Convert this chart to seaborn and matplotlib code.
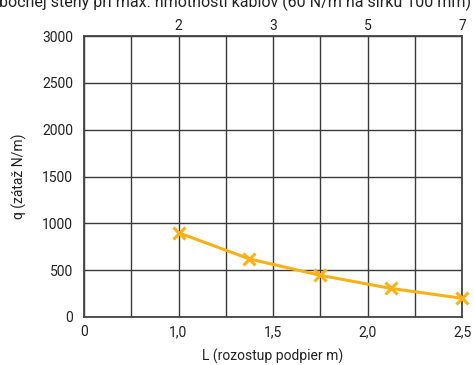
import numpy as np
import pandas as pd
import matplotlib
matplotlib.use('Agg')
import matplotlib.pyplot as plt
import seaborn as sns

# data
span_L = [1.0, 1.375, 1.75, 2.125, 2.5]     # rozostup podpier (m)
load_q = [900, 620, 445, 305, 200]          # zataz (N/m)

x_ticks = [0, 1.0, 1.5, 2.0, 2.5]
x_ticklabels = ["0", "1,0", "1,5", "2,0", "2,5"]
x_minor = [0.5, 1.25, 1.75, 2.25]
top_ticks = [1.0, 1.5, 2.0, 2.5]
top_labels = ["2", "3", "5", "7"]
y_ticks = [0, 500, 1000, 1500, 2000, 2500, 3000]

title = "bočnej steny pri max. hmotnosti káblov (60 N/m na šírku 100 mm)"

df = pd.DataFrame({"L": span_L, "q": load_q})

sns.set_style("white")
plt.rcParams['font.family'] = ['Roboto', 'DejaVu Sans']

# broken x scale: 0..1 squeezed into two columns, 1..2.5 in six columns
def fwd(x):
    x = np.asarray(x, dtype=float)
    return np.where(x < 1, 2 * x, 2 + 4 * (x - 1))

def inv(p):
    p = np.asarray(p, dtype=float)
    return np.where(p < 2, p / 2, 1 + (p - 2) / 4)

fig = plt.figure(figsize=(4.74, 3.65), dpi=100)
ax = fig.add_axes([84 / 474, 1 - 317 / 365, (462 - 84) / 474, (317 - 36) / 365])
ax.set_xscale('function', functions=(fwd, inv))

sns.lineplot(data=df, x="L", y="q", ax=ax, color="#F9B115", linewidth=2.2,
             marker="x", markersize=8, markeredgewidth=2.2, markeredgecolor="#F9B115",
             clip_on=False, zorder=5)

ax.set_xlim(0, 2.5)
ax.set_ylim(0, 3000)
ax.set_xticks(x_ticks)
ax.set_xticklabels(x_ticklabels)
ax.set_xticks(x_minor, minor=True)
ax.set_yticks(y_ticks)
ax.grid(True, which='both', axis='x', color='#3a3a3a', linewidth=1)
ax.grid(True, axis='y', color='#3a3a3a', linewidth=1)
ax.tick_params(axis='both', which='both', length=0, labelsize=10, colors='#222222')
ax.tick_params(axis='x', pad=6)
ax.tick_params(axis='y', pad=8)

for s in ax.spines.values():
    s.set_color('#444444')
    s.set_linewidth(1.3)
    s.set_visible(True)

ax.set_xlabel("L (rozostup podpier m)", fontsize=10, color='#222222', labelpad=7)
ax.set_ylabel("q (zátaž N/m)", fontsize=10, color='#222222', labelpad=11)

# top axis with the same broken scale
top = ax.twiny()
top.set_xscale('function', functions=(fwd, inv))
top.set_xlim(0, 2.5)
top.set_xticks(top_ticks)
top.set_xticklabels(top_labels)
top.set_xticks([], minor=True)
top.tick_params(length=0, labelsize=10, colors='#222222', pad=2)
for s in top.spines.values():
    s.set_visible(False)

# title line is cut by the top edge, as in the source image
fig.text(-0.003, 1 - 7 / 365, title, fontsize=11.5, color='#222222', va='baseline', ha='left')

fig.savefig("out.png", dpi=100)
